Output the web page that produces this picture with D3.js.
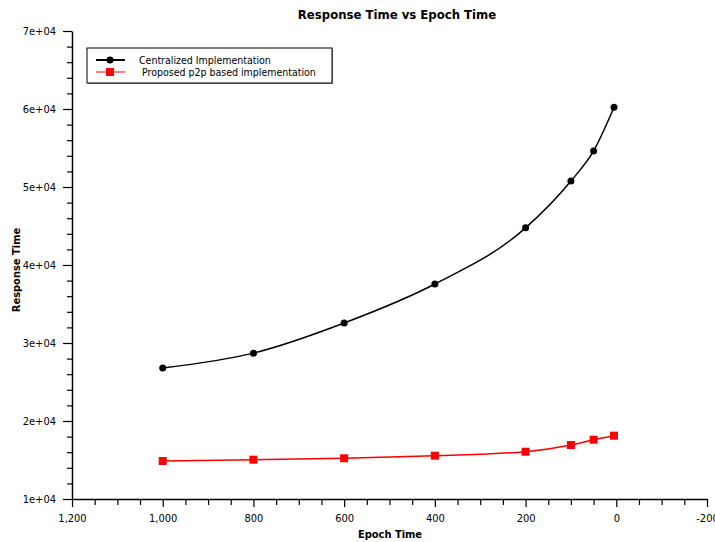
<!DOCTYPE html>
<html>
<head>
<meta charset="utf-8">
<script src="https://cdn.jsdelivr.net/npm/d3@7"></script>
<style>
  body { margin: 0; background: #fff; }
  svg { display: block; }
  text { font-family: "DejaVu Sans Condensed", "DejaVu Sans", sans-serif; fill: #000; }
</style>
</head>
<body>
<script>
const width = 715;
const height = 542;

// epoch time values (x) shared by both series
const epochs = [1000, 800, 600, 400, 200, 100, 50, 5];
const centralized = [26800, 28700, 32560, 37560, 44760, 50770, 54620, 60220];
const p2p = [14870, 15040, 15220, 15550, 16060, 16920, 17600, 18120];
const seriesNames = ["Centralized Implementation", " Proposed p2p based implementation"];
const xTicks = [1200, 1000, 800, 600, 400, 200, 0, -200];
const yTicks = [10000, 20000, 30000, 40000, 50000, 60000, 70000];

const margin = { top: 31, right: 8, bottom: 43, left: 72 };

const svg = d3.select("body").append("svg")
  .attr("width", width)
  .attr("height", height);

const x = d3.scaleLinear()
  .domain([1200, -200])
  .range([margin.left, width - margin.right]);

const y = d3.scaleLinear()
  .domain([10000, 70000])
  .range([height - margin.bottom, margin.top]);

// minor ticks
const xMinor = d3.range(-200, 1201, 50).filter(v => v % 200 !== 0);
const yMinor = d3.range(10000, 70001, 2000).filter(v => v % 10000 !== 0);

svg.append("g")
  .attr("transform", `translate(0,${height - margin.bottom})`)
  .call(d3.axisBottom(x).tickValues(xMinor).tickSize(6).tickFormat(""))
  .call(g => g.select(".domain").remove());

svg.append("g")
  .attr("transform", `translate(${margin.left},0)`)
  .call(d3.axisLeft(y).tickValues(yMinor).tickSize(5).tickFormat(""))
  .call(g => g.select(".domain").remove());

const fmtX = d => d3.format(",")(d).replace("\u2212", "-");
const xAxis = svg.append("g")
  .attr("transform", `translate(0,${height - margin.bottom})`)
  .call(d3.axisBottom(x).tickValues(xTicks).tickSize(8).tickSizeOuter(0).tickFormat(fmtX));
xAxis.selectAll("text").attr("font-size", 11).attr("dy", "1.05em");
xAxis.select(".domain").attr("stroke-width", 1.5);

const fmtY = d => (d / 10000) + "e+04";
const yAxis = svg.append("g")
  .attr("transform", `translate(${margin.left},0)`)
  .call(d3.axisLeft(y).tickValues(yTicks).tickSize(9).tickSizeOuter(0).tickFormat(fmtY));
yAxis.selectAll("text").attr("font-size", 11).attr("x", -16);
yAxis.select(".domain").attr("stroke-width", 1.5);

svg.selectAll(".tick line").attr("stroke-width", 1.2);

// lines
const series = [
  { name: seriesNames[0], values: centralized, color: "#000", shape: "circle" },
  { name: seriesNames[1], values: p2p, color: "#ff0000", shape: "square" }
];

const line = d3.line()
  .x(d => x(d[0]))
  .y(d => y(d[1]))
  .curve(d3.curveMonotoneX);

series.forEach(s => {
  const pts = epochs.map((e, i) => [e, s.values[i]]).sort((a, b) => a[0] - b[0]);
  svg.append("path")
    .datum(pts)
    .attr("fill", "none")
    .attr("stroke", s.color)
    .attr("stroke-width", 1.5)
    .attr("d", line);
  const g = svg.append("g");
  if (s.shape === "circle") {
    g.selectAll("circle").data(pts).join("circle")
      .attr("cx", d => x(d[0]))
      .attr("cy", d => y(d[1]))
      .attr("r", 3.5)
      .attr("fill", s.color);
  } else {
    g.selectAll("rect").data(pts).join("rect")
      .attr("x", d => x(d[0]) - 4)
      .attr("y", d => y(d[1]) - 4)
      .attr("width", 8)
      .attr("height", 8)
      .attr("fill", s.color);
  }
});

// title and axis labels
svg.append("text")
  .attr("x", 397).attr("y", 19)
  .attr("text-anchor", "middle")
  .attr("font-size", 13).attr("font-weight", "bold")
  .text("Response Time vs Epoch Time");

svg.append("text")
  .attr("x", 390).attr("y", 538)
  .attr("text-anchor", "middle")
  .attr("font-size", 11).attr("font-weight", "bold")
  .text("Epoch Time");

svg.append("text")
  .attr("transform", "translate(20,270) rotate(-90)")
  .attr("text-anchor", "middle")
  .attr("font-size", 11).attr("font-weight", "bold")
  .text("Response Time");

// legend
const legend = svg.append("g").attr("transform", "translate(87,48)");
legend.append("rect")
  .attr("x", 1).attr("y", 1)
  .attr("width", 245).attr("height", 35)
  .attr("fill", "#888");
legend.append("rect")
  .attr("width", 245).attr("height", 35)
  .attr("fill", "#fff").attr("stroke", "#000").attr("stroke-width", 1);

series.forEach((s, i) => {
  const ly = 12 + i * 12;
  legend.append("line")
    .attr("x1", 9).attr("x2", 38)
    .attr("y1", ly).attr("y2", ly)
    .attr("stroke", s.color).attr("stroke-width", s.shape === "circle" ? 2 : 1);
  if (s.shape === "circle") {
    legend.append("circle").attr("cx", 23).attr("cy", ly).attr("r", 3.5).attr("fill", s.color);
  } else {
    legend.append("rect").attr("x", 19).attr("y", ly - 4).attr("width", 8).attr("height", 8).attr("fill", s.color);
  }
  legend.append("text")
    .attr("x", 52).attr("y", ly)
    .attr("dy", "0.35em")
    .attr("font-size", 10.5)
    .attr("xml:space", "preserve")
    .style("white-space", "pre")
    .text(s.name);
});
</script>
</body>
</html>
